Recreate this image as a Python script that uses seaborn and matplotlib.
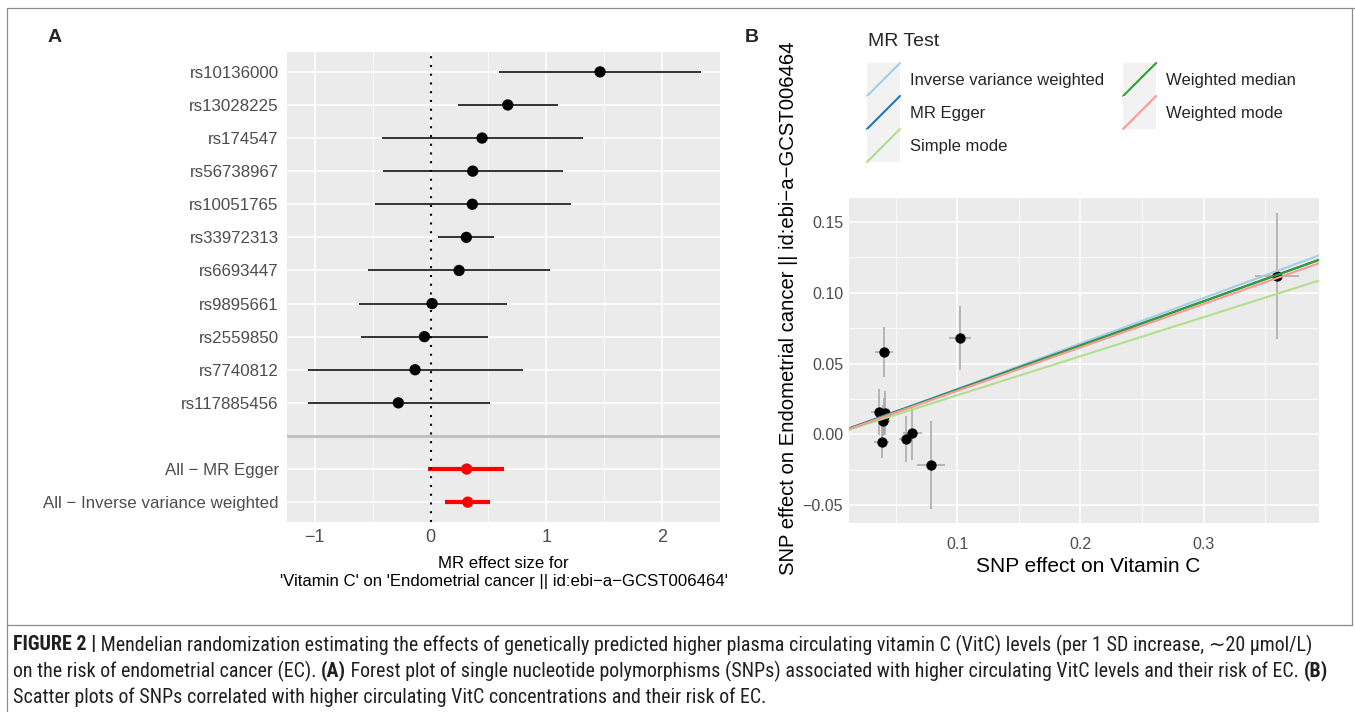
import numpy as np
import pandas as pd
import matplotlib
matplotlib.use("Agg")
import matplotlib.pyplot as plt
import seaborn as sns
from matplotlib.lines import Line2D
from matplotlib.patches import Rectangle
from matplotlib.legend_handler import HandlerBase
from matplotlib import font_manager as fm

# ---- Panel A: forest plot values ----
snps = ["rs10136000", "rs13028225", "rs174547", "rs56738967", "rs10051765",
        "rs33972313", "rs6693447", "rs9895661", "rs2559850", "rs7740812",
        "rs117885456"]
snp_b = [1.464, 0.667, 0.445, 0.364, 0.361, 0.309, 0.246, 0.013, -0.053, -0.134, -0.278]
snp_lo = [0.59, 0.235, -0.42, -0.41, -0.48, 0.068, -0.54, -0.62, -0.60, -1.06, -1.06]
snp_hi = [2.336, 1.104, 1.32, 1.14, 1.21, 0.551, 1.032, 0.658, 0.50, 0.80, 0.517]

summary_labels = ["All \u2212 MR Egger", "All \u2212 Inverse variance weighted"]
summary_b = [0.312, 0.321]
summary_lo = [-0.02, 0.122]
summary_hi = [0.637, 0.511]

# ---- Panel B: scatter values ----
beta_exp = [0.0404, 0.102, 0.0366, 0.0415, 0.0393, 0.0400, 0.0385, 0.0583, 0.0634, 0.0784, 0.3597]
beta_out = [0.0582, 0.0683, 0.0158, 0.0153, 0.0096, 0.0130, -0.0054, -0.0031, 0.0007, -0.0217, 0.1119]
se_exp = [0.0072, 0.0088, 0.0070, 0.0070, 0.0060, 0.0060, 0.0060, 0.0060, 0.0075, 0.0116, 0.0178]
se_out = [0.0177, 0.0227, 0.0162, 0.0155, 0.0110, 0.0130, 0.0112, 0.0162, 0.0186, 0.0312, 0.0446]

mr_methods = ["Inverse variance weighted", "MR Egger", "Simple mode",
              "Weighted median", "Weighted mode"]
mr_slope = [0.321, 0.312, 0.276, 0.313, 0.307]
mr_intercept = [0.0, 0.0005, 0.0, 0.0, 0.0]

W, H = 1355, 712

sns.set_theme(style="darkgrid", rc={
    "axes.facecolor": "#EBEBEB",
    "grid.color": "white",
    "axes.edgecolor": "none",
})
plt.rcParams["font.family"] = ["Liberation Sans", "DejaVu Sans"]

fig = plt.figure(figsize=(W / 100, H / 100), dpi=100)
fig.patch.set_facecolor("white")


def fig_rect(left, top, right, bottom):
    return [left / W, 1 - bottom / H, (right - left) / W, (bottom - top) / H]


# ---------------- Panel A ----------------
forest = pd.DataFrame({
    "label": snps + summary_labels,
    "b": snp_b + summary_b,
    "lo": snp_lo + summary_lo,
    "hi": snp_hi + summary_hi,
    "kind": ["snp"] * len(snps) + ["all"] * len(summary_labels),
})
forest["pos"] = list(range(len(snps))) + [len(snps) + 1 + i for i in range(len(summary_labels))]

axA = fig.add_axes(fig_rect(287, 52, 720, 522))
is_snp = forest["kind"] == "snp"
axA.hlines(forest.loc[is_snp, "pos"], forest.loc[is_snp, "lo"], forest.loc[is_snp, "hi"],
           colors="#111111", linewidth=1.2, zorder=2)
axA.hlines(forest.loc[~is_snp, "pos"], forest.loc[~is_snp, "lo"], forest.loc[~is_snp, "hi"],
           colors="#FF0000", linewidth=3.0, zorder=2)
sns.scatterplot(data=forest, x="b", y="pos", hue="kind",
                palette={"snp": "black", "all": "#FF0000"},
                s=66, linewidth=0, legend=False, ax=axA, zorder=3)
axA.axvline(0, color="black", linestyle=(0, (1, 3.2)), linewidth=1.5, zorder=2.5)
axA.axhline(len(snps), color="#BEBEBE", linewidth=2, zorder=1.5)

axA.set_xlim(-1.24, 2.5)
axA.set_ylim(forest["pos"].max() + 0.6, -0.6)
axA.set_yticks(forest["pos"])
axA.set_yticklabels(forest["label"])
axA.set_xticks([-1, 0, 1, 2])
axA.set_xticklabels(["\u22121", "0", "1", "2"])
axA.set_xticks([-0.5, 0.5, 1.5], minor=True)
axA.grid(which="major", color="white", linewidth=1.1)
axA.grid(which="minor", axis="x", color="white", linewidth=0.55)
axA.tick_params(axis="y", which="major", length=3, width=0.8, color="#333333",
                labelsize=12.2, labelcolor="#4D4D4D", pad=3)
axA.tick_params(axis="x", which="major", length=3, width=0.8, color="#333333",
                labelsize=13, labelcolor="#4D4D4D", pad=2)
axA.tick_params(which="minor", length=0)
axA.set_xlabel("MR effect size for\n'Vitamin C' on 'Endometrial cancer || id:ebi\u2212a\u2212GCST006464'",
               fontsize=12.1, color="black", linespacing=1.2)
axA.xaxis.label.set_va("center")
axA.xaxis.set_label_coords((503.5 - 287) / 433, (522 - 572.5) / 470)
axA.set_ylabel("")
for s in axA.spines.values():
    s.set_visible(False)

fig.text(55 / W, 1 - 38 / H, "A", fontsize=14, fontweight="bold", ha="center", va="center")
fig.text(752 / W, 1 - 38 / H, "B", fontsize=14, fontweight="bold", ha="center", va="center")

# ---------------- Panel B ----------------
scat = pd.DataFrame({"x": beta_exp, "y": beta_out, "sx": se_exp, "sy": se_out})
axB = fig.add_axes(fig_rect(849.3, 198.3, 1319.3, 523))
axB.vlines(scat["x"], scat["y"] - scat["sy"], scat["y"] + scat["sy"],
           colors="#A6A6A6", linewidth=1.1, zorder=2)
axB.hlines(scat["y"], scat["x"] - scat["sx"], scat["x"] + scat["sx"],
           colors="#A6A6A6", linewidth=1.1, zorder=2)
sns.scatterplot(data=scat, x="x", y="y", color="black", s=55, linewidth=0,
                ax=axB, zorder=3)

pal = sns.color_palette("Paired")
method_colors = {
    "Inverse variance weighted": pal[0],
    "MR Egger": pal[1],
    "Simple mode": pal[2],
    "Weighted median": pal[3],
    "Weighted mode": pal[4],
}
line_handles = []
for m, sl, ic in zip(mr_methods, mr_slope, mr_intercept):
    ln = axB.axline((0, ic), slope=sl, color=method_colors[m], linewidth=1.5, zorder=4)
    line_handles.append(ln)

axB.set_xlim(0.0122, 0.394)
axB.set_ylim(-0.0627, 0.1668)
axB.set_xticks([0.1, 0.2, 0.3])
axB.set_xticklabels(["0.1", "0.2", "0.3"])
axB.set_xticks([0.05, 0.15, 0.25, 0.35], minor=True)
yt = [-0.05, 0.0, 0.05, 0.10, 0.15]
axB.set_yticks(yt)
axB.set_yticklabels([f"{v:.2f}".replace("-", "\u2212") for v in yt])
axB.set_yticks([-0.025, 0.025, 0.075, 0.125], minor=True)
axB.grid(which="major", color="white", linewidth=1.1)
axB.grid(which="minor", color="white", linewidth=0.55)
axB.tick_params(which="major", length=3, width=0.8, color="#333333",
                labelsize=11.5, labelcolor="#4D4D4D")
axB.tick_params(axis="y", which="major", pad=1.5)
axB.tick_params(axis="x", which="major", pad=7)
axB.tick_params(which="minor", length=0)
for s in axB.spines.values():
    s.set_visible(False)
axB.set_xlabel("SNP effect on Vitamin C", fontsize=15, color="black")
axB.xaxis.label.set_va("center")
axB.xaxis.set_label_coords((1088 - 849.3) / 470, (523 - 566) / 324.7)
axB.set_ylabel("SNP effect on Endometrial cancer || id:ebi\u2212a\u2212GCST006464",
               fontsize=14.6, color="black")
axB.yaxis.label.set_va("center")
axB.yaxis.set_label_coords((789 - 849.3) / 470, (523 - 308) / 324.7)


class DiagonalKey(HandlerBase):
    def create_artists(self, legend, orig_handle, xdescent, ydescent, width, height,
                       fontsize, trans):
        bg = Rectangle((-xdescent, -ydescent), width, height, facecolor="#F2F2F2",
                       edgecolor="none", transform=trans)
        ln = Line2D([-xdescent, -xdescent + width], [-ydescent, -ydescent + height],
                    color=orig_handle.get_color(), linewidth=1.5, transform=trans)
        return [bg, ln]


fig.text(868 / W, 1 - 42 / H, "MR Test", fontsize=14, ha="left", va="center")
fig.legend(line_handles, mr_methods, loc="upper left",
           bbox_to_anchor=(867 / W, 1 - 63 / H), ncol=2, frameon=False,
           fontsize=12, handler_map={Line2D: DiagonalKey()},
           handlelength=1.98, handleheight=2.67, labelspacing=0,
           handletextpad=0.6, columnspacing=1.14, borderpad=0, borderaxespad=0)

# ---------------- frame ----------------
frame_c = "#8C8C8C"
for xs, ys in [([7, W], [8, 8]), ([7, 7], [8, H]), ([W - 3, W - 3], [8, 625]), ([7, W - 3], [625, 625])]:
    fig.add_artist(Line2D([x / W for x in xs], [1 - y / H for y in ys],
                          transform=fig.transFigure, color=frame_c, linewidth=0.9))

# ---------------- caption ----------------
names = {f.name for f in fm.fontManager.ttflist}
cap_font = next((n for n in ["Liberation Sans Narrow", "Roboto Condensed", "Open Sans Condensed"]
                 if n in names), "Liberation Sans")
cap_family = [cap_font, "DejaVu Sans"]
renderer = fig.canvas.get_renderer()


def text_width(s, fs, bold):
    t1 = fig.text(0, 0, "X" + s + "X", fontsize=fs, family=cap_family,
                  fontweight="bold" if bold else "normal")
    t2 = fig.text(0, 0, "XX", fontsize=fs, family=cap_family,
                  fontweight="bold" if bold else "normal")
    w = t1.get_window_extent(renderer).width - t2.get_window_extent(renderer).width
    t1.remove()
    t2.remove()
    return w


caption = [
    (645, [("FIGURE 2 |", True),
           (" Mendelian randomization estimating the effects of genetically predicted higher plasma "
            "circulating vitamin C (VitC) levels (per 1 SD increase, \u223c20 \u00b5mol/L)", False)]),
    (671, [("on the risk of endometrial cancer (EC). ", False), ("(A)", True),
           (" Forest plot of single nucleotide polymorphisms (SNPs) associated with higher "
            "circulating VitC levels and their risk of EC. ", False), ("(B)", True)]),
    (697, [("Scatter plots of SNPs correlated with higher circulating VitC concentrations and "
            "their risk of EC.", False)]),
]

base_fs = 11
w1 = sum(text_width(s, base_fs, b) for s, b in caption[0][1])
w2 = sum(text_width(s, base_fs, b) for s, b in caption[1][1])
cap_fs = base_fs * min(1330 / w1, 1316 / w2)

for y, segs in caption:
    x = 13
    for s, b in segs:
        fig.text(x / W, 1 - y / H, s, fontsize=cap_fs, family=cap_family,
                 fontweight="bold" if b else "normal", ha="left", va="center",
                 color="#231F20")
        x += text_width(s, cap_fs, b)

fig.savefig("out.png", dpi=100)
